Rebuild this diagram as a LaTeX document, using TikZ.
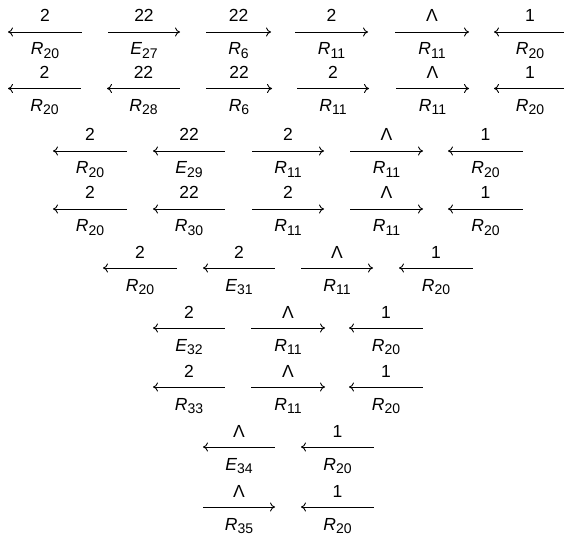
\documentclass[tikz,border=0pt]{standalone}
\usepackage{fontspec}
\setmainfont{Liberation Sans}
\usetikzlibrary{arrows.meta}
\newcommand\lbl[2]{\textit{#1}\raisebox{-0.2em}{\fontsize{14}{14}\selectfont #2}}
\tikzset{
  conn/.style={line width=0.9pt, draw=black},
  toplbl/.style={anchor=base, inner sep=0pt, font=\fontsize{17.5}{18}\selectfont},
  botlbl/.style={anchor=base, inner sep=0pt, font=\fontsize{17.5}{18}\selectfont},
  tipL/.style={{To[length=5pt,width=9pt]}-},
  tipR/.style={-{To[length=5pt,width=9pt]}},
}
% name, y, x1, x2, dir (L/R), top label, bottom label
\newcommand\arw[7]{%
  \coordinate (#1a) at (#3,#2);
  \coordinate (#1b) at (#4,#2);
  \draw[conn, tip#5] (#1a) -- (#1b);
  \node[toplbl] (#1t) at ({(#3+#4)/2},#2-10) {#6};
  \node[botlbl] (#1u) at ({(#3+#4)/2},#2+23) {#7};
}
\begin{document}
\begin{tikzpicture}[x=1pt,y=-1pt]
\useasboundingbox (0,0) rectangle (564,537);
% row 1
\arw{ra1}{32}{8}{82}{L}{2}{\lbl{R}{20}}
\arw{ra2}{32}{108}{180}{R}{22}{\lbl{E}{27}}
\arw{ra3}{32}{206}{271}{R}{22}{\lbl{R}{6}}
\arw{ra4}{32}{295}{368}{R}{2}{\lbl{R}{11}}
\arw{ra5}{32}{395}{469}{R}{Λ}{\lbl{R}{11}}
\arw{ra6}{32}{494}{566}{L}{1}{\lbl{R}{20}}
% row 2
\arw{rb1}{88.5}{8}{81}{L}{2}{\lbl{R}{20}}
\arw{rb2}{88.5}{107}{180}{L}{22}{\lbl{R}{28}}
\arw{rb3}{88.5}{206}{272}{R}{22}{\lbl{R}{6}}
\arw{rb4}{88.5}{297}{369}{R}{2}{\lbl{R}{11}}
\arw{rb5}{88.5}{396}{469}{R}{Λ}{\lbl{R}{11}}
\arw{rb6}{88.5}{494}{566}{L}{1}{\lbl{R}{20}}
% row 3
\arw{rc1}{151}{53}{127}{L}{2}{\lbl{R}{20}}
\arw{rc2}{151}{153}{225}{L}{22}{\lbl{E}{29}}
\arw{rc3}{151}{252}{324}{R}{2}{\lbl{R}{11}}
\arw{rc4}{151}{350}{423}{R}{Λ}{\lbl{R}{11}}
\arw{rc5}{151}{448}{523}{L}{1}{\lbl{R}{20}}
% row 4
\arw{rd1}{209}{53}{127}{L}{2}{\lbl{R}{20}}
\arw{rd2}{209}{153}{225}{L}{22}{\lbl{R}{30}}
\arw{rd3}{209}{252}{324}{R}{2}{\lbl{R}{11}}
\arw{rd4}{209}{350}{423}{R}{Λ}{\lbl{R}{11}}
\arw{rd5}{209}{448}{523}{L}{1}{\lbl{R}{20}}
% row 5
\arw{re1}{268}{103}{177}{L}{2}{\lbl{R}{20}}
\arw{re2}{268}{203}{275}{L}{2}{\lbl{E}{31}}
\arw{re3}{268}{301}{373}{R}{Λ}{\lbl{R}{11}}
\arw{re4}{268}{399}{473}{L}{1}{\lbl{R}{20}}
% row 6
\arw{rf1}{328}{153}{225}{L}{2}{\lbl{E}{32}}
\arw{rf2}{328}{251}{325}{R}{Λ}{\lbl{R}{11}}
\arw{rf3}{328}{349}{423}{L}{1}{\lbl{R}{20}}
% row 7
\arw{rg1}{387}{153}{225}{L}{2}{\lbl{R}{33}}
\arw{rg2}{387}{251}{325}{R}{Λ}{\lbl{R}{11}}
\arw{rg3}{387}{349}{423}{L}{1}{\lbl{R}{20}}
% row 8
\arw{rh1}{447}{203}{275}{L}{Λ}{\lbl{E}{34}}
\arw{rh2}{447}{301}{374}{L}{1}{\lbl{R}{20}}
% row 9
\arw{ri1}{507}{203}{275}{R}{Λ}{\lbl{R}{35}}
\arw{ri2}{507}{301}{374}{L}{1}{\lbl{R}{20}}
\end{tikzpicture}
\end{document}
